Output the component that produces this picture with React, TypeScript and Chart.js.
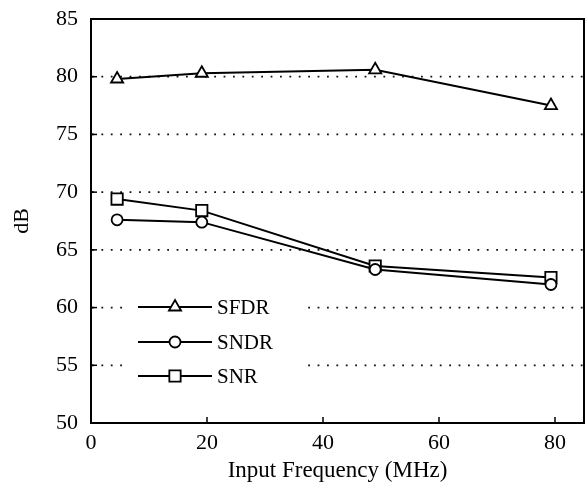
import React, { useEffect, useRef } from 'react';
import { Chart, registerables } from 'chart.js';

Chart.register(...registerables);

const frequencies = [4.5, 19.1, 49.0, 79.3];
const sfdr = [79.8, 80.3, 80.6, 77.5];
const sndr = [67.6, 67.4, 63.3, 62.0];
const snr = [69.4, 68.4, 63.6, 62.6];
const seriesNames = ['SFDR', 'SNDR', 'SNR'];
const seriesStyles = ['triangle', 'circle', 'rect'];
const seriesRadius = [7, 5.5, 8];
const xTickValues = [0, 20, 40, 60, 80];
const yTickValues = [50, 55, 60, 65, 70, 75, 80, 85];
const gridValues = [55, 60, 65, 70, 75, 80];

const FONT = '"Liberation Serif", "Times New Roman", serif';

function drawMarker(ctx: CanvasRenderingContext2D, style: string, x: number, y: number, r: number) {
  ctx.beginPath();
  if (style === 'triangle') {
    ctx.moveTo(x, y - r);
    ctx.lineTo(x + r * 0.866, y + r * 0.5);
    ctx.lineTo(x - r * 0.866, y + r * 0.5);
    ctx.closePath();
  } else if (style === 'circle') {
    ctx.arc(x, y, r, 0, Math.PI * 2);
  } else {
    const s = r * Math.SQRT1_2;
    ctx.rect(x - s, y - s, 2 * s, 2 * s);
  }
  ctx.fillStyle = '#fff';
  ctx.fill();
  ctx.stroke();
}

const decorPlugin = {
  id: 'decor',
  beforeDatasetsDraw(chart: any) {
    const { ctx, chartArea: a, scales } = chart;
    const x = scales.x;
    const y = scales.y;
    ctx.save();
    ctx.strokeStyle = '#111';
    ctx.lineWidth = 1.8;
    ctx.setLineDash([1.8, 7.6]);
    gridValues.forEach((v) => {
      const py = y.getPixelForValue(v);
      ctx.beginPath();
      ctx.moveTo(a.left + 1, py);
      ctx.lineTo(a.right, py);
      ctx.stroke();
    });
    ctx.setLineDash([]);
    ctx.strokeStyle = '#000';
    ctx.lineWidth = 1.5;
    yTickValues.forEach((v) => {
      const py = y.getPixelForValue(v);
      ctx.beginPath();
      ctx.moveTo(a.left, py);
      ctx.lineTo(a.left + 6, py);
      ctx.stroke();
    });
    xTickValues.forEach((v) => {
      const px = x.getPixelForValue(v);
      ctx.beginPath();
      ctx.moveTo(px, a.bottom);
      ctx.lineTo(px, a.bottom - 6);
      ctx.stroke();
    });
    ctx.lineWidth = 2;
    ctx.strokeRect(a.left, a.top, a.right - a.left, a.bottom - a.top);
    ctx.restore();
  },
  afterDatasetsDraw(chart: any) {
    const { ctx, chartArea: a } = chart;
    ctx.save();
    const bx = a.left + 33;
    const by = a.top + 270;
    ctx.fillStyle = '#fff';
    ctx.fillRect(bx, by, 178, 106);
    const rows = [a.top + 288, a.top + 323, a.top + 357];
    seriesNames.forEach((name, i) => {
      const ly = rows[i];
      ctx.strokeStyle = '#000';
      ctx.lineWidth = 2;
      ctx.beginPath();
      ctx.moveTo(a.left + 47, ly);
      ctx.lineTo(a.left + 121, ly);
      ctx.stroke();
      ctx.lineWidth = 1.8;
      drawMarker(ctx, seriesStyles[i], a.left + 84, ly, seriesRadius[i]);
      ctx.fillStyle = '#000';
      ctx.font = `21px ${FONT}`;
      ctx.textAlign = 'left';
      ctx.textBaseline = 'middle';
      ctx.fillText(name, a.left + 126, ly + 1);
    });
    ctx.restore();
  },
};

function zeroPadding(scale: any) {
  scale.paddingTop = 0;
  scale.paddingBottom = 0;
  scale.paddingLeft = 0;
  scale.paddingRight = 0;
}

export default function App() {
  const canvasRef = useRef<HTMLCanvasElement | null>(null);

  useEffect(() => {
    document.body.style.margin = '0';
    const canvas = canvasRef.current;
    if (!canvas) return;
    const seriesValues = [sfdr, sndr, snr];
    const chart = new Chart(canvas, {
      type: 'line',
      data: {
        datasets: seriesNames.map((name, i) => ({
          label: name,
          data: frequencies.map((f, j) => ({ x: f, y: seriesValues[i][j] })),
          borderColor: '#000',
          borderWidth: 2,
          pointStyle: seriesStyles[i] as any,
          pointRadius: seriesRadius[i],
          pointBorderWidth: 1.8,
          pointBorderColor: '#000',
          pointBackgroundColor: '#fff',
          tension: 0,
          fill: false,
        })),
      },
      options: {
        animation: false,
        responsive: false,
        maintainAspectRatio: false,
        layout: { autoPadding: false, padding: { top: 19, right: 1, left: 0, bottom: 0 } },
        plugins: {
          legend: { display: false },
          tooltip: { enabled: false },
        },
        scales: {
          x: {
            type: 'linear',
            min: 0,
            max: 85,
            afterBuildTicks: (scale: any) => {
              scale.ticks = xTickValues.map((v) => ({ value: v }));
            },
            afterFit: (scale: any) => {
              scale.height = 62;
              zeroPadding(scale);
            },
            grid: { display: false, drawTicks: false },
            border: { display: false },
            ticks: {
              color: '#000',
              font: { family: FONT, size: 22 },
              padding: 7,
              maxRotation: 0,
            },
            title: {
              display: true,
              text: 'Input Frequency (MHz)',
              color: '#000',
              font: { family: FONT, size: 23 },
              padding: { top: 0, bottom: 0 },
            },
          },
          y: {
            type: 'linear',
            min: 50,
            max: 85,
            afterBuildTicks: (scale: any) => {
              scale.ticks = yTickValues.map((v) => ({ value: v }));
            },
            afterFit: (scale: any) => {
              scale.width = 91;
              zeroPadding(scale);
            },
            grid: { display: false, drawTicks: false },
            border: { display: false },
            ticks: {
              color: '#000',
              font: { family: FONT, size: 22 },
              padding: 13,
            },
            title: {
              display: true,
              text: 'dB',
              color: '#000',
              font: { family: FONT, size: 22 },
              padding: { top: 9, bottom: 0 },
            },
          },
        },
      },
      plugins: [decorPlugin],
    });
    return () => chart.destroy();
  }, []);

  return (
    <div style={{ width: 585, height: 485 }}>
      <canvas ref={canvasRef} width={585} height={485} />
    </div>
  );
}
